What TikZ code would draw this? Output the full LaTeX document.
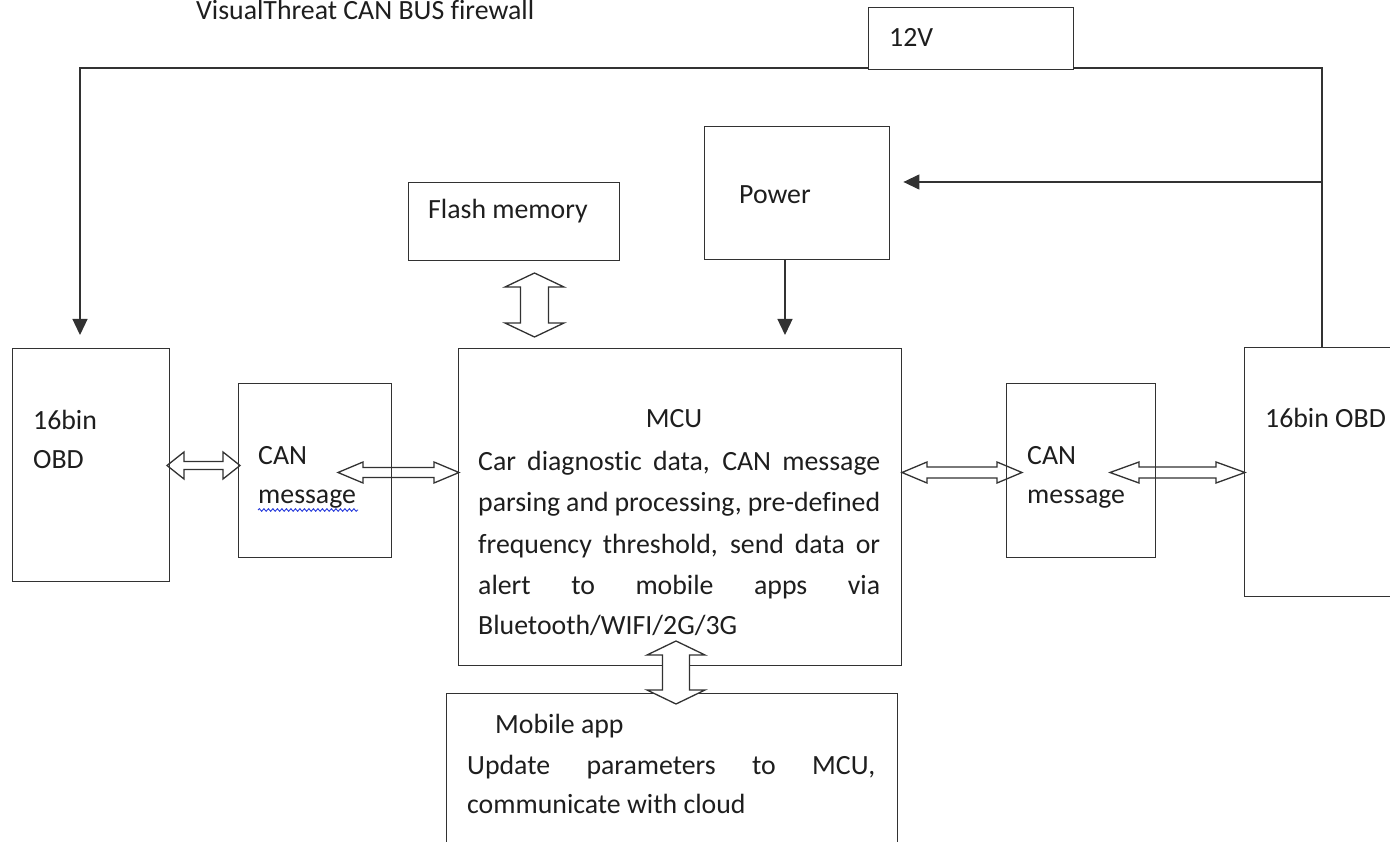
\documentclass[tikz,border=0pt]{standalone}
\usepackage{fontspec}
\setmainfont{Carlito}[Ligatures={NoCommon}]
\usetikzlibrary{arrows.meta,calc,decorations.pathmorphing}
\definecolor{linec}{RGB}{50,50,50}
\definecolor{textc}{RGB}{30,30,30}
\definecolor{wavec}{RGB}{40,60,220}
\newcommand\dblH[6][]{%
  \draw[dbl,#1] (#2) -- ($(#2)+(#4,-#5)$) -- ($(#2)+(#4,-#6)$) -- ($(#3)+(-#4,-#6)$) -- ($(#3)+(-#4,-#5)$) -- (#3)
    -- ($(#3)+(-#4,#5)$) -- ($(#3)+(-#4,#6)$) -- ($(#2)+(#4,#6)$) -- ($(#2)+(#4,#5)$) -- cycle;}
\newcommand\dblV[6][]{%
  \draw[dbl,#1] (#2) -- ($(#2)+(-#5,#4)$) -- ($(#2)+(-#6,#4)$) -- ($(#3)+(-#6,-#4)$) -- ($(#3)+(-#5,-#4)$) -- (#3)
    -- ($(#3)+(#5,-#4)$) -- ($(#3)+(#6,-#4)$) -- ($(#2)+(#6,#4)$) -- ($(#2)+(#5,#4)$) -- cycle;}
\begin{document}
\begin{tikzpicture}[x=1pt,y=-1pt,
  box/.style={draw=linec, line width=1.4pt, inner sep=0pt, anchor=north west},
  txt/.style={anchor=base west, inner sep=0pt, text=textc, font=\fontsize{27.8}{33}\selectfont},
  conn/.style={draw=linec, line width=1.3pt},
  tipped/.style={conn, -{Triangle[width=15pt,length=16pt]}},
  dbl/.style={draw=linec, line width=1.3pt, line join=miter}]
\clip (0,0) rectangle (1390,842);
\fill[white] (0,0) rectangle (1390,842);

% boxes
\node[box, minimum width=205pt, minimum height=62pt] (v12) at (868,7) {};
\node[box, minimum width=185pt, minimum height=133pt] (power) at (704,126) {};
\node[box, minimum width=211pt, minimum height=78pt] (flash) at (408,182) {};
\node[box, minimum width=443pt, minimum height=317pt] (mcu) at (458,348) {};
\node[box, minimum width=157pt, minimum height=233pt] (lobd) at (12,348) {};
\node[box, minimum width=153pt, minimum height=174pt] (lcan) at (238,383) {};
\node[box, minimum width=149pt, minimum height=174pt] (rcan) at (1006,383) {};
\node[box, minimum width=170pt, minimum height=249pt] (robd) at (1244,347) {};
\node[box, minimum width=451pt, minimum height=180pt] (mobile) at (446,693) {};

% texts
\node[txt] (title) at (196,20) {VisualThreat CAN BUS firewall};
\node[txt] (t12v) at (889,47) {12V};
\node[txt] (tpow) at (739,204) {Power};
\node[txt] (tflash) at (428,219) {Flash memory};
\node[txt, anchor=base] (tmcu) at (674,427) {MCU};
\node[txt] (m1) at (478,470) {\makebox[402pt][s]{Car diagnostic data, CAN message}};
\node[txt] (m2) at (478,511) {\makebox[402pt][s]{parsing and processing, pre-defined}};
\node[txt] (m3) at (478,553) {\makebox[402pt][s]{frequency threshold, send data or}};
\node[txt] (m4) at (478,594) {\makebox[402pt][s]{alert to mobile apps via}};
\node[txt] (m5) at (478,634) {Bluetooth/WIFI/2G/3G};
\node[txt] (tmob) at (495,733) {Mobile app};
\node[txt] (mb1) at (467,774) {\makebox[408pt][s]{Update parameters to MCU,}};
\node[txt] (mb2) at (467,813) {communicate with cloud};
\node[txt] (tlobd1) at (33,429) {16bin};
\node[txt] (tlobd2) at (33,468) {OBD};
\node[txt] (tlcan1) at (258,464) {CAN};
\node[txt] (tlcan2) at (258,503) {message};
\node[txt] (trcan1) at (1027,464) {CAN};
\node[txt] (trcan2) at (1027,503) {message};
\node[txt] (trobd) at (1265,427) {16bin OBD};
\draw[wavec, line width=0.9pt, decorate, decoration={snake, amplitude=1.3pt, segment length=4.5pt}]
  (258,510) -- (358,510);

% 12V lines
\coordinate (rtop) at (1322,68);
\coordinate (ltop) at (80,68);
\coordinate (rpow) at (1322,182);
\draw[conn] (robd.north west -| rtop) -- (rtop) -- (v12.east |- rtop);
\draw[tipped] (v12.west |- ltop) -- (ltop) -- ($(lobd.north -| ltop)+(0,-13)$);
\draw[tipped] (rpow) -- ($(power.east |- rpow)+(13,0)$);
\draw[tipped] (power.south -| 785,0) -- ($(mcu.north -| 785,0)+(0,-13)$);

% double arrows
\coordinate (d1a) at (167,465.5); \coordinate (d1b) at (240,465.5);
\coordinate (d2a) at (338,472.5); \coordinate (d2b) at (459,472.5);
\coordinate (d3a) at (902,472.5); \coordinate (d3b) at (1022,472.5);
\coordinate (d4a) at (1110,472.5); \coordinate (d4b) at (1245,472.5);
\coordinate (d5a) at (534.5,273); \coordinate (d5b) at (534.5,337);
\coordinate (d6a) at (676,641); \coordinate (d6b) at (676,704);
\dblH{d1a}{d1b}{17}{13.5}{4}
\dblH{d2a}{d2b}{25}{10.5}{5}
\dblH{d3a}{d3b}{25}{10.5}{5.5}
\dblH{d4a}{d4b}{29}{10.5}{5.5}
\dblV{d5a}{d5b}{14}{29.5}{14}
\dblV[fill=white]{d6a}{d6b}{14}{29}{13.5}
\end{tikzpicture}
\end{document}
